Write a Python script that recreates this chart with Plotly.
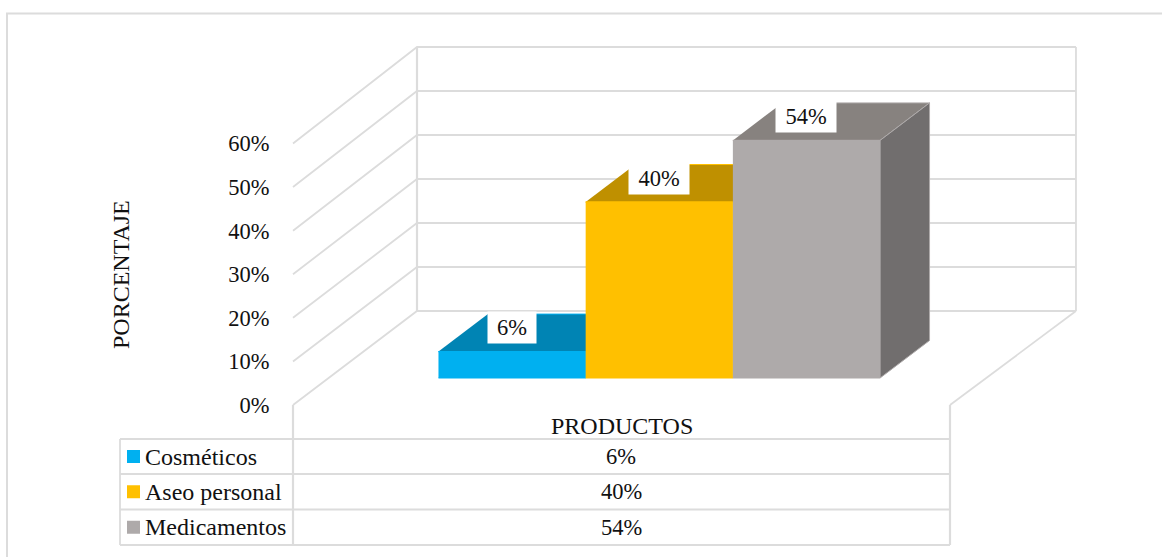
import plotly.graph_objects as go

W, H = 1162, 557

# ---- data ----
categories = ["Cosméticos", "Aseo personal", "Medicamentos"]
values = [6, 40, 54]
tick_values = [0, 10, 20, 30, 40, 50, 60]
tick_labels = ["0%", "10%", "20%", "30%", "40%", "50%", "60%"]
axis_title = "PORCENTAJE"
category_title = "PRODUCTOS"

# ---- styles ----
front_colors = ["#00B0F0", "#FFC000", "#AEAAAA"]
top_colors = ["#0084B4", "#BF9000", "#87827F"]
side_colors = ["#006F98", "#A07A00", "#716E6E"]
GRID = "#DCDCDC"
FONT = "Liberation Serif"
FS = 22.5
FS_WORD = 24
TXT = "#111111"

# ---- geometry of the oblique view (pixels of the plot frame) ----
FLOOR_L, FLOOR_R = 293, 950
FLOOR_FRONT_Y = 405
BAR_BASE_Y = 378
PX_PER_PCT = 4.4
DEPTH_X, DEPTH_Y = 124, 94
FRONT_SCALE = 261.5 / 264
D0 = (FLOOR_FRONT_Y - BAR_BASE_Y) / DEPTH_Y
D1 = D0 + 37.5 / DEPTH_Y
BAR_START, BAR_W = 0.1672, 147.2 / (FLOOR_R - FLOOR_L)


def project(xf, pct, d):
    """floor fraction, percent, depth -> data coordinates of the main axes"""
    return xf + d * DEPTH_X / (FLOOR_R - FLOOR_L), pct + (d - D0) * DEPTH_Y / PX_PER_PCT


def px(x):
    return x / W


def py(y):
    return 1 - y / H


fig = go.Figure()


def line(points, width=1.8):
    xy = [project(*p) for p in points]
    fig.add_trace(go.Scatter(x=[p[0] for p in xy], y=[p[1] for p in xy], mode="lines",
                             line=dict(color=GRID, width=width), hoverinfo="skip", showlegend=False))


def poly(points, color, edge):
    xy = [project(*p) for p in points]
    fig.add_trace(go.Scatter(x=[p[0] for p in xy], y=[p[1] for p in xy], mode="lines", fill="toself",
                             fillcolor=color, line=dict(color=edge, width=1),
                             hoverinfo="skip", showlegend=False))


# walls and floor
for t in tick_values:
    line([(0, t * FRONT_SCALE, 0), (0, t, 1), (1.003, t, 1)])
line([(0, 0, 1), (0, tick_values[-1], 1)], 2.2)
line([(1.003, 0, 1), (1.003, tick_values[-1], 1)], 1.8)
line([(1, 0, 0), (1.003, 0, 1)])

# columns
for i, v in enumerate(values):
    a, b = BAR_START + i * BAR_W, BAR_START + (i + 1) * BAR_W
    poly([(a, v, D0), (b, v, D0), (b, v, D1), (a, v, D1)], top_colors[i], front_colors[i])
    poly([(b, 0, D0), (b, 0, D1), (b, v, D1), (b, v, D0)], side_colors[i], front_colors[i])
    poly([(a, 0, D0), (b, 0, D0), (b, v, D0), (a, v, D0)], front_colors[i], front_colors[i])

# invisible trace that carries the tick-label axis
fig.add_trace(go.Scatter(x=[0], y=[0], yaxis="y2", mode="markers", marker=dict(opacity=0),
                         hoverinfo="skip", showlegend=False))

annotations = []
for i, v in enumerate(values):
    cx, cy = project(BAR_START + (i + 0.5) * BAR_W, v, D0)
    annotations.append(dict(x=cx, y=cy, xref="x", yref="y", yshift=24, text=f"{v}%", showarrow=False,
                            xanchor="center", yanchor="middle",
                            bgcolor="white", width=60 if v >= 10 else 48, height=31, borderpad=0,
                            align="center", valign="middle", font=dict(family=FONT, size=FS, color=TXT)))

ROW_Y = [439, 474, 509.5, 545]
TABLE_L = 120
G = dict(color=GRID, width=1.8)
shapes = [dict(type="line", xref="paper", yref="paper", x0=px(7), x1=px(7), y0=py(14), y1=py(H + 5),
               line=dict(color=GRID, width=2)),
          dict(type="line", xref="paper", yref="paper", x0=px(6), x1=px(W + 5), y0=py(13.5), y1=py(13.5), line=G),
          dict(type="line", xref="paper", yref="paper", x0=px(TABLE_L), x1=px(TABLE_L), y0=py(ROW_Y[0]),
               y1=py(ROW_Y[-1]), line=G),
          dict(type="line", xref="paper", yref="paper", x0=px(FLOOR_L), x1=px(FLOOR_L), y0=py(FLOOR_FRONT_Y),
               y1=py(ROW_Y[-1]), line=dict(color=GRID, width=2.2)),
          dict(type="line", xref="paper", yref="paper", x0=px(FLOOR_R), x1=px(FLOOR_R), y0=py(FLOOR_FRONT_Y),
               y1=py(ROW_Y[-1]), line=dict(color=GRID, width=2.2))]
for y in ROW_Y:
    shapes.append(dict(type="line", xref="paper", yref="paper", x0=px(TABLE_L), x1=px(FLOOR_R), y0=py(y), y1=py(y),
                       line=G))

for i, (name, v) in enumerate(zip(categories, values)):
    mid = (ROW_Y[i] + ROW_Y[i + 1]) / 2
    shapes.append(dict(type="rect", xref="paper", yref="paper", x0=px(127), x1=px(140),
                       y0=py(mid - 6.5), y1=py(mid + 6.5), fillcolor=front_colors[i],
                       line=dict(width=0)))
    annotations.append(dict(x=px(142.5), y=py(mid), xref="paper", yref="paper", xanchor="left", yanchor="middle",
                            text=name, showarrow=False, font=dict(family=FONT, size=FS_WORD, color=TXT)))
    annotations.append(dict(x=px(621), y=py(mid), xref="paper", yref="paper", xanchor="center", yanchor="middle",
                            text=f"{v}%", showarrow=False, font=dict(family=FONT, size=FS, color=TXT)))

annotations.append(dict(x=px(622), y=py(426), xref="paper", yref="paper", xanchor="center", yanchor="middle",
                        text=category_title, showarrow=False, font=dict(family=FONT, size=FS_WORD, color=TXT)))
annotations.append(dict(x=px(121), y=py(275), xref="paper", yref="paper", xanchor="center", yanchor="middle",
                        text=axis_title, textangle=-90, showarrow=False,
                        font=dict(family=FONT, size=FS_WORD, color=TXT)))

span = FLOOR_R - FLOOR_L
front_px_per_pct = 261.5 / 60
fig.update_layout(
    width=W, height=H, margin=dict(l=0, r=0, t=0, b=0),
    paper_bgcolor="white", plot_bgcolor="white", showlegend=False,
    xaxis=dict(range=[-FLOOR_L / span, (W - FLOOR_L) / span], visible=False, fixedrange=True),
    yaxis=dict(range=[-(H - BAR_BASE_Y) / PX_PER_PCT, BAR_BASE_Y / PX_PER_PCT], visible=False, fixedrange=True),
    yaxis2=dict(range=[-(H - FLOOR_FRONT_Y) / front_px_per_pct, FLOOR_FRONT_Y / front_px_per_pct],
                overlaying="y", anchor="free", position=269.5 / W, side="left", showgrid=False, zeroline=False,
                showline=False, ticks="", tickvals=tick_values, ticktext=tick_labels, fixedrange=True,
                tickfont=dict(family=FONT, size=FS, color=TXT)),
    annotations=annotations, shapes=shapes,
)
fig.write_html("out.html", config=dict(displayModeBar=False),
               post_script="document.body.style.margin='0';")
